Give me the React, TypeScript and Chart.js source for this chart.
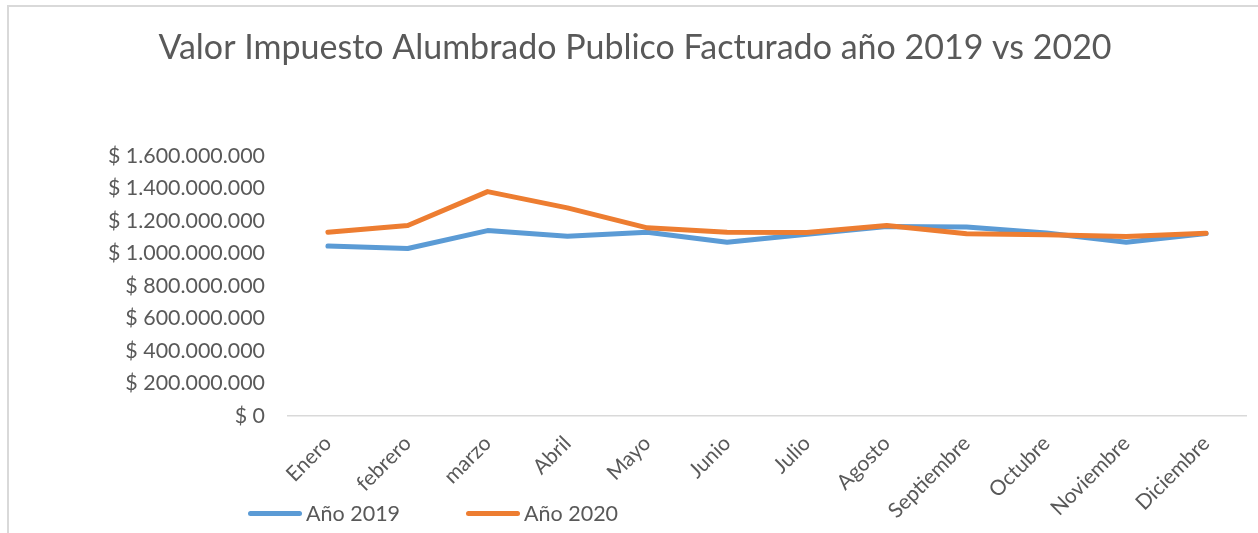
import React, { useEffect, useRef } from "react";
import { Chart, registerables } from "chart.js";

Chart.register(...registerables);

const months = ["Enero", "febrero", "marzo", "Abril", "Mayo", "Junio", "Julio", "Agosto", "Septiembre", "Octubre", "Noviembre", "Diciembre"];
const values2019 = [1045000000, 1030000000, 1140000000, 1105000000, 1130000000, 1068000000, 1118000000, 1165000000, 1162000000, 1125000000, 1068000000, 1122000000];
const values2020 = [1130000000, 1171000000, 1380000000, 1280000000, 1157000000, 1130000000, 1128000000, 1171000000, 1120000000, 1114000000, 1104000000, 1124000000];
const seriesNames = ["Año 2019", "Año 2020"];
const titleText = "Valor Impuesto Alumbrado Publico Facturado año 2019 vs 2020";

const BLUE = "#5b9bd5";
const ORANGE = "#ed7d31";
const TEXT = "#595959";
const FONT = "Lato, 'Open Sans', sans-serif";

function fmt(v: number): string {
  const s = Math.round(v).toString().replace(/\B(?=(\d{3})+(?!\d))/g, ".");
  return "$ " + s;
}

export default function App() {
  const ref = useRef<HTMLCanvasElement | null>(null);
  useEffect(() => {
    if (!ref.current) return;
    const chart = new Chart(ref.current, {
      type: "line",
      data: {
        labels: months,
        datasets: [
          {
            label: seriesNames[0],
            data: values2019,
            borderColor: BLUE,
            backgroundColor: BLUE,
            borderWidth: 5,
            pointRadius: 0,
            tension: 0,
            borderCapStyle: "round",
            borderJoinStyle: "round",
            order: 1,
          },
          {
            label: seriesNames[1],
            data: values2020,
            borderColor: ORANGE,
            backgroundColor: ORANGE,
            borderWidth: 5,
            pointRadius: 0,
            tension: 0,
            borderCapStyle: "round",
            borderJoinStyle: "round",
            order: 0,
          },
        ],
      },
      options: {
        animation: false,
        responsive: false,
        layout: { padding: { left: 24, right: 12, top: 0, bottom: 0 } },
        plugins: {
          legend: { display: false },
          tooltip: { enabled: false },
          title: {
            display: true,
            text: titleText,
            color: TEXT,
            font: { family: FONT, size: 34, weight: "normal" },
            padding: { top: 28, bottom: 87 },
          },
        },
        scales: {
          x: {
            offset: true,
            grid: { display: false, drawTicks: false },
            border: { display: true, color: "#d9d9d9", width: 1.5 },
            ticks: {
              color: TEXT,
              font: { family: FONT, size: 21 },
              minRotation: 45,
              maxRotation: 45,
              padding: 15,
              autoSkip: false,
            },
            afterFit: (s: any) => {
              s.height = 117;
            },
          },
          y: {
            min: 0,
            max: 1600000000,
            grid: { display: false, drawTicks: false },
            border: { display: false },
            ticks: {
              stepSize: 200000000,
              color: TEXT,
              font: { family: FONT, size: 21.4 },
              padding: 23,
              callback: (v: any) => fmt(Number(v)),
            },
            afterFit: (s: any) => {
              s.width = 264;
            },
          },
        },
      },
    });
    return () => chart.destroy();
  }, []);

  const legendText: React.CSSProperties = {
    position: "absolute",
    top: 500,
    fontFamily: FONT,
    fontSize: 21.5,
    color: TEXT,
    lineHeight: "26px",
    whiteSpace: "nowrap",
  };

  return (
    <div style={{ position: "fixed", left: 0, top: 0, width: 1258, height: 533, overflow: "hidden", background: "#fff" }}>
      <div
        style={{
          position: "absolute",
          left: 7,
          top: 5,
          width: 1300,
          height: 600,
          border: "2px solid #d9d9d9",
          boxSizing: "border-box",
        }}
      />
      <canvas ref={ref} width={1258} height={533} style={{ position: "absolute", left: 0, top: 0 }} />
      <div style={{ position: "absolute", left: 248, top: 511, width: 54, height: 5, borderRadius: 3, background: BLUE }} />
      <div style={{ ...legendText, left: 306 }}>{seriesNames[0]}</div>
      <div style={{ position: "absolute", left: 466, top: 511, width: 54, height: 5, borderRadius: 3, background: ORANGE }} />
      <div style={{ ...legendText, left: 524 }}>{seriesNames[1]}</div>
    </div>
  );
}
